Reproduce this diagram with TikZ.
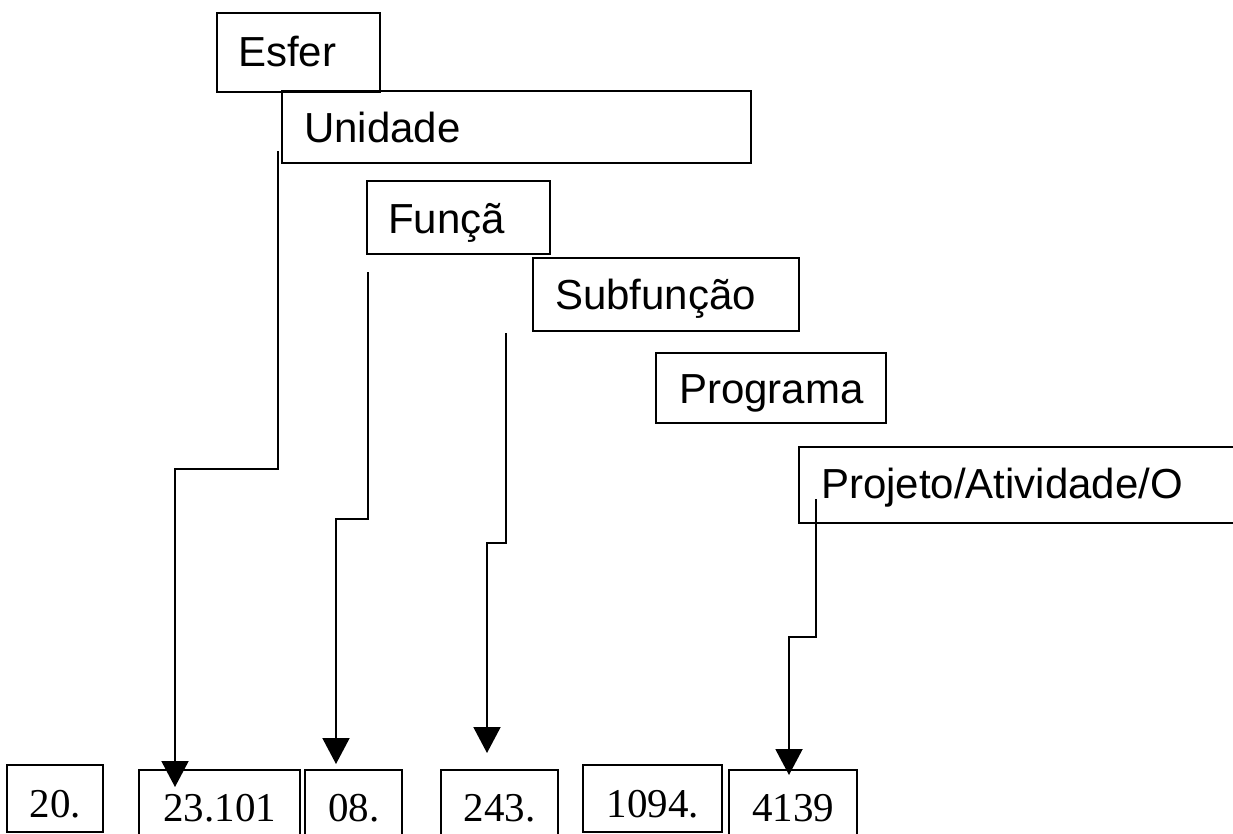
\documentclass[tikz,border=0pt]{standalone}
\usepackage{fontspec}
\setmainfont{Liberation Serif}
\newfontfamily\arialfont{Liberation Sans}
\usetikzlibrary{arrows.meta,calc}
\tikzset{
  topbox/.style={draw, line width=1.7pt, anchor=north west, inner ysep=0pt, align=left,
    font=\arialfont\fontsize{31.5}{36}\selectfont},
  numbox/.style={draw, line width=1.7pt, anchor=north west, inner ysep=0pt, inner xsep=0pt,
    font=\fontsize{30.75}{36}\selectfont},
  link/.style={line width=1.5pt, -{Triangle[width=20.25pt,length=19.5pt]}}
}
\begin{document}
\begin{tikzpicture}[x=0.75pt,y=-0.75pt]
\useasboundingbox (0,0) rectangle (1233,833);
\clip (0,0) rectangle (1233,833);
% top boxes
\node[topbox, text height=39.75pt, text depth=19.5pt, inner xsep=15.75pt, text width=90.75pt] (esf) at (216,12) {Esfer};
\node[topbox, text height=38.25pt, text depth=15.75pt, inner xsep=16.5pt, text width=318.75pt] (unid) at (281,90) {Unidade};
\node[topbox, text height=39pt, text depth=15.75pt, inner xsep=15.75pt, text width=105.75pt] (func) at (366,180) {Funçã};
\node[topbox, text height=38.25pt, text depth=16.5pt, inner xsep=16.5pt, text width=166.5pt] (sub) at (532,257) {Subfunção};
\node[topbox, text height=37.5pt, text depth=15pt, inner xsep=17.25pt, text width=138pt] (prog) at (655,352) {Programa};
\node[topbox, text height=38.25pt, text depth=18.75pt, inner xsep=16.5pt, text width=306pt] (proj) at (798,446) {Projeto/Atividade/O};
% bottom boxes
\node[numbox, minimum width=72pt, text height=39pt, text depth=11.25pt] (n20) at (6,764) {20.};
\node[numbox, minimum width=120.75pt, text height=38.25pt, text depth=15pt] (n23) at (138,769) {23.101};
\node[numbox, minimum width=72.75pt, text height=38.25pt, text depth=15pt] (n08) at (304,769) {08.};
\node[numbox, minimum width=87.75pt, text height=38.25pt, text depth=15pt] (n243) at (440,769) {243.};
\node[numbox, minimum width=104.25pt, text height=39pt, text depth=11.25pt] (n1094) at (582,764) {1094.};
\node[numbox, minimum width=96pt, text height=38.25pt, text depth=15pt] (n4139) at (728,769) {4139};
% connector ends
\coordinate (s1) at ($(unid.north west)+(-3,61)$);
\coordinate (e1) at ($(n23.north west)+(37,18)$);
\coordinate (b1) at (e1 |- 0,469);
\coordinate (s2) at ($(func.north west)+(2,92)$);
\coordinate (e2) at ($(n08.north west)+(32,-5)$);
\coordinate (b2) at (e2 |- 0,519);
\coordinate (s3) at ($(sub.north west)+(-26,76)$);
\coordinate (e3) at ($(n243.north west)+(47,-16)$);
\coordinate (b3) at (e3 |- 0,543);
\coordinate (s4) at ($(proj.north west)+(18,53)$);
\coordinate (e4) at ($(n4139.north west)+(61,6)$);
\coordinate (b4) at (e4 |- 0,637);
\draw[link] (s1) |- (b1) -- (e1);
\draw[link] (s2) |- (b2) -- (e2);
\draw[link] (s3) |- (b3) -- (e3);
\draw[link] (s4) |- (b4) -- (e4);
\end{tikzpicture}
\end{document}
